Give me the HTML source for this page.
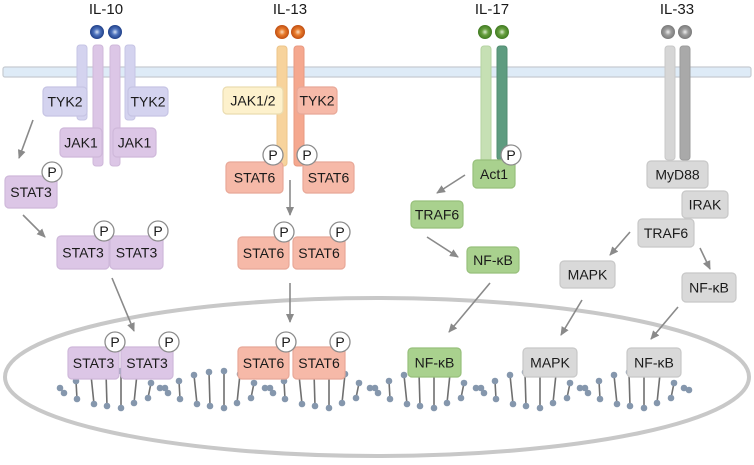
<!DOCTYPE html>
<html><head><meta charset="utf-8"><style>
html,body{margin:0;padding:0;background:#fff;}
svg{display:block;}
text{font-family:"Liberation Sans",sans-serif;fill:#1a1a1a;}
</style></head><body>
<svg width="754" height="465" viewBox="0 0 754 465" xmlns="http://www.w3.org/2000/svg">
<defs>
<marker id="ah" markerWidth="10" markerHeight="10" refX="8" refY="4" orient="auto" markerUnits="userSpaceOnUse">
<path d="M0,0 L9,4 L0,8 z" fill="#8a8a8a"/>
</marker>
<radialGradient id="gb" cx="0.5" cy="0.5" r="0.5"><stop offset="0" stop-color="#d6e2f6"/><stop offset="0.45" stop-color="#4f73bd"/><stop offset="1" stop-color="#1f3f88"/></radialGradient>
<radialGradient id="go" cx="0.5" cy="0.5" r="0.5"><stop offset="0" stop-color="#fcdcbc"/><stop offset="0.45" stop-color="#e87b2c"/><stop offset="1" stop-color="#c04e12"/></radialGradient>
<radialGradient id="gg" cx="0.5" cy="0.5" r="0.5"><stop offset="0" stop-color="#dcecd0"/><stop offset="0.45" stop-color="#68a040"/><stop offset="1" stop-color="#3f7a20"/></radialGradient>
<radialGradient id="gy" cx="0.5" cy="0.5" r="0.5"><stop offset="0" stop-color="#efefef"/><stop offset="0.45" stop-color="#9e9e9e"/><stop offset="1" stop-color="#7a7a7a"/></radialGradient>
</defs>

<!-- membrane -->
<rect x="3" y="67" width="748" height="10" rx="2" fill="#deebf7" stroke="#c6cbd1" stroke-width="1.2"/>

<!-- labels -->
<g font-size="15" text-anchor="middle">
<text x="106" y="14">IL-10</text>
<text x="290" y="14">IL-13</text>
<text x="492" y="14">IL-17</text>
<text x="677" y="14">IL-33</text>
</g>

<!-- balls -->
<circle cx="97" cy="32" r="7" fill="url(#gb)"/><circle cx="115" cy="32" r="7" fill="url(#gb)"/>
<circle cx="282" cy="32" r="7" fill="url(#go)"/><circle cx="298" cy="32" r="7" fill="url(#go)"/>
<circle cx="485" cy="32" r="7" fill="url(#gg)"/><circle cx="502" cy="32" r="7" fill="url(#gg)"/>
<circle cx="668" cy="32" r="7" fill="url(#gy)"/><circle cx="685" cy="32" r="7" fill="url(#gy)"/>

<!-- receptor bars -->
<g stroke-width="1">
<rect x="77" y="45" width="10" height="75" rx="3" fill="#d4d3ef" stroke="#c6c4e4"/>
<rect x="125" y="45" width="10" height="75" rx="3" fill="#d4d3ef" stroke="#c6c4e4"/>
<rect x="93" y="45" width="10" height="121" rx="3" fill="#dcc6e6" stroke="#cfb8da"/>
<rect x="110" y="45" width="10" height="121" rx="3" fill="#dcc6e6" stroke="#cfb8da"/>
<rect x="277" y="46" width="10" height="120" rx="3" fill="#f7d39c" stroke="#ecc48a"/>
<rect x="294" y="46" width="10" height="120" rx="3" fill="#f5a88f" stroke="#e89a82"/>
<rect x="481" y="46" width="10" height="117" rx="3" fill="#c6e0b4" stroke="#b5d3a2"/>
<rect x="497" y="46" width="10" height="114" rx="3" fill="#5e9c80" stroke="#528d72"/>
<rect x="665" y="46" width="10" height="114" rx="3" fill="#d6d6d6" stroke="#c8c8c8"/>
<rect x="680" y="46" width="10" height="114" rx="3" fill="#a9a9a9" stroke="#9c9c9c"/>
</g>

<!-- nucleus -->
<ellipse cx="377" cy="377" rx="372" ry="79" fill="none" stroke="#c8c8c8" stroke-width="4"/>

<!-- DNA lines -->
<g stroke="#707070" stroke-width="1.6">
<line x1="76" y1="381" x2="77" y2="399"/><line x1="91" y1="375" x2="94" y2="404"/><line x1="106" y1="372" x2="107" y2="406"/><line x1="121" y1="371" x2="121" y2="408"/><line x1="137" y1="374" x2="134" y2="403"/><line x1="151" y1="383" x2="148" y2="398"/>
<line x1="179" y1="381" x2="180" y2="399"/><line x1="194" y1="375" x2="197" y2="404"/><line x1="209" y1="372" x2="210" y2="406"/><line x1="224" y1="371" x2="224" y2="408"/><line x1="240" y1="374" x2="237" y2="403"/><line x1="254" y1="383" x2="251" y2="398"/>
<line x1="284" y1="381" x2="285" y2="399"/><line x1="299" y1="375" x2="302" y2="404"/><line x1="314" y1="372" x2="315" y2="406"/><line x1="329" y1="371" x2="329" y2="408"/><line x1="345" y1="374" x2="342" y2="403"/><line x1="359" y1="383" x2="356" y2="398"/>
<line x1="389" y1="381" x2="390" y2="399"/><line x1="404" y1="375" x2="407" y2="404"/><line x1="419" y1="372" x2="420" y2="406"/><line x1="434" y1="371" x2="434" y2="408"/><line x1="450" y1="374" x2="447" y2="403"/><line x1="464" y1="383" x2="461" y2="398"/>
<line x1="495" y1="381" x2="496" y2="399"/><line x1="510" y1="375" x2="513" y2="404"/><line x1="525" y1="372" x2="526" y2="406"/><line x1="540" y1="371" x2="540" y2="408"/><line x1="556" y1="374" x2="553" y2="403"/><line x1="570" y1="383" x2="567" y2="398"/>
<line x1="599" y1="381" x2="600" y2="399"/><line x1="614" y1="375" x2="617" y2="404"/><line x1="629" y1="372" x2="630" y2="406"/><line x1="644" y1="371" x2="644" y2="408"/><line x1="660" y1="374" x2="657" y2="403"/><line x1="674" y1="383" x2="671" y2="398"/>
</g>
<!-- DNA dots -->
<g fill="#8597ad">
<circle cx="60" cy="388" r="3.3"/><circle cx="64" cy="393" r="3.3"/>
<circle cx="76" cy="381" r="3.3"/><circle cx="77" cy="399" r="3.3"/><circle cx="91" cy="375" r="3.3"/><circle cx="94" cy="404" r="3.3"/><circle cx="106" cy="372" r="3.3"/><circle cx="107" cy="406" r="3.3"/><circle cx="121" cy="371" r="3.3"/><circle cx="121" cy="408" r="3.3"/><circle cx="137" cy="374" r="3.3"/><circle cx="134" cy="403" r="3.3"/><circle cx="151" cy="383" r="3.3"/><circle cx="148" cy="398" r="3.3"/>
<circle cx="160" cy="388" r="3.3"/><circle cx="165" cy="388" r="3.3"/><circle cx="168" cy="393" r="3.3"/>
<circle cx="179" cy="381" r="3.3"/><circle cx="180" cy="399" r="3.3"/><circle cx="194" cy="375" r="3.3"/><circle cx="197" cy="404" r="3.3"/><circle cx="209" cy="372" r="3.3"/><circle cx="210" cy="406" r="3.3"/><circle cx="224" cy="371" r="3.3"/><circle cx="224" cy="408" r="3.3"/><circle cx="240" cy="374" r="3.3"/><circle cx="237" cy="403" r="3.3"/><circle cx="254" cy="383" r="3.3"/><circle cx="251" cy="398" r="3.3"/>
<circle cx="265" cy="388" r="3.3"/><circle cx="270" cy="388" r="3.3"/><circle cx="273" cy="393" r="3.3"/>
<circle cx="284" cy="381" r="3.3"/><circle cx="285" cy="399" r="3.3"/><circle cx="299" cy="375" r="3.3"/><circle cx="302" cy="404" r="3.3"/><circle cx="314" cy="372" r="3.3"/><circle cx="315" cy="406" r="3.3"/><circle cx="329" cy="371" r="3.3"/><circle cx="329" cy="408" r="3.3"/><circle cx="345" cy="374" r="3.3"/><circle cx="342" cy="403" r="3.3"/><circle cx="359" cy="383" r="3.3"/><circle cx="356" cy="398" r="3.3"/>
<circle cx="370" cy="388" r="3.3"/><circle cx="375" cy="388" r="3.3"/><circle cx="378" cy="393" r="3.3"/>
<circle cx="389" cy="381" r="3.3"/><circle cx="390" cy="399" r="3.3"/><circle cx="404" cy="375" r="3.3"/><circle cx="407" cy="404" r="3.3"/><circle cx="419" cy="372" r="3.3"/><circle cx="420" cy="406" r="3.3"/><circle cx="434" cy="371" r="3.3"/><circle cx="434" cy="408" r="3.3"/><circle cx="450" cy="374" r="3.3"/><circle cx="447" cy="403" r="3.3"/><circle cx="464" cy="383" r="3.3"/><circle cx="461" cy="398" r="3.3"/>
<circle cx="476" cy="388" r="3.3"/><circle cx="481" cy="388" r="3.3"/><circle cx="484" cy="393" r="3.3"/>
<circle cx="495" cy="381" r="3.3"/><circle cx="496" cy="399" r="3.3"/><circle cx="510" cy="375" r="3.3"/><circle cx="513" cy="404" r="3.3"/><circle cx="525" cy="372" r="3.3"/><circle cx="526" cy="406" r="3.3"/><circle cx="540" cy="371" r="3.3"/><circle cx="540" cy="408" r="3.3"/><circle cx="556" cy="374" r="3.3"/><circle cx="553" cy="403" r="3.3"/><circle cx="570" cy="383" r="3.3"/><circle cx="567" cy="398" r="3.3"/>
<circle cx="580" cy="388" r="3.3"/><circle cx="585" cy="388" r="3.3"/><circle cx="588" cy="393" r="3.3"/>
<circle cx="599" cy="381" r="3.3"/><circle cx="600" cy="399" r="3.3"/><circle cx="614" cy="375" r="3.3"/><circle cx="617" cy="404" r="3.3"/><circle cx="629" cy="372" r="3.3"/><circle cx="630" cy="406" r="3.3"/><circle cx="644" cy="371" r="3.3"/><circle cx="644" cy="408" r="3.3"/><circle cx="660" cy="374" r="3.3"/><circle cx="657" cy="403" r="3.3"/><circle cx="674" cy="383" r="3.3"/><circle cx="671" cy="398" r="3.3"/>
<circle cx="684" cy="388" r="3.3"/><circle cx="689" cy="390" r="3.3"/>
</g>

<!-- boxes -->
<g stroke-width="1.2" font-size="14" text-anchor="middle">
<!-- IL-10 -->
<rect x="43" y="87" width="44" height="29" rx="4" fill="#d4d3ef" stroke="#c6c4e4"/><text x="65" y="106.5">TYK2</text>
<rect x="128" y="87" width="40" height="29" rx="4" fill="#d4d3ef" stroke="#c6c4e4"/><text x="148" y="106.5">TYK2</text>
<rect x="60" y="128" width="42" height="29" rx="4" fill="#dcc6e6" stroke="#cfb8da"/><text x="81" y="147.5">JAK1</text>
<rect x="113" y="128" width="43" height="29" rx="4" fill="#dcc6e6" stroke="#cfb8da"/><text x="134.5" y="147.5">JAK1</text>
<rect x="5" y="176" width="52" height="32" rx="4" fill="#dcc6e6" stroke="#cfb8da"/><text x="31" y="197">STAT3</text>
<rect x="57" y="236" width="52" height="33" rx="4" fill="#dcc6e6" stroke="#cfb8da"/><text x="83" y="257.5">STAT3</text>
<rect x="110" y="236" width="53" height="33" rx="4" fill="#dcc6e6" stroke="#cfb8da"/><text x="136.5" y="257.5">STAT3</text>
<rect x="68" y="347" width="51" height="32" rx="4" fill="#dcc6e6" stroke="#cfb8da"/><text x="93.5" y="368">STAT3</text>
<rect x="121" y="347" width="52" height="32" rx="4" fill="#dcc6e6" stroke="#cfb8da"/><text x="147" y="368">STAT3</text>
<!-- IL-13 -->
<rect x="223" y="87" width="60" height="27" rx="4" fill="#fdf1cc" stroke="#eadcb0"/><text x="253" y="105.5">JAK1/2</text>
<rect x="297" y="87" width="40" height="27" rx="4" fill="#f6b9a8" stroke="#e8a898"/><text x="317" y="105.5">TYK2</text>
<rect x="226" y="162" width="57" height="31" rx="4" fill="#f6b9a8" stroke="#e8a898"/><text x="254.5" y="182.5">STAT6</text>
<rect x="303" y="162" width="51" height="31" rx="4" fill="#f6b9a8" stroke="#e8a898"/><text x="328.5" y="182.5">STAT6</text>
<rect x="238" y="237" width="51" height="32" rx="4" fill="#f6b9a8" stroke="#e8a898"/><text x="263.5" y="258">STAT6</text>
<rect x="293" y="237" width="52" height="32" rx="4" fill="#f6b9a8" stroke="#e8a898"/><text x="319" y="258">STAT6</text>
<rect x="238" y="347" width="51" height="32" rx="4" fill="#f6b9a8" stroke="#e8a898"/><text x="263.5" y="368">STAT6</text>
<rect x="293" y="347" width="52" height="32" rx="4" fill="#f6b9a8" stroke="#e8a898"/><text x="319" y="368">STAT6</text>
<!-- IL-17 -->
<rect x="473" y="160" width="42" height="28" rx="4" fill="#a9d18e" stroke="#98c07c"/><text x="494" y="179">Act1</text>
<rect x="411" y="201" width="52" height="27" rx="4" fill="#a9d18e" stroke="#98c07c"/><text x="437" y="219.5">TRAF6</text>
<rect x="467" y="247" width="52" height="26" rx="4" fill="#a9d18e" stroke="#98c07c"/><text x="493" y="265">NF-κB</text>
<rect x="408" y="348" width="53" height="29" rx="4" fill="#a9d18e" stroke="#98c07c"/><text x="434.5" y="367.5">NF-κB</text>
<!-- IL-33 -->
<rect x="647" y="161" width="61" height="27" rx="4" fill="#d9d9d9" stroke="#c8c8c8"/><text x="677.5" y="179.5">MyD88</text>
<rect x="682" y="191" width="46" height="27" rx="4" fill="#d9d9d9" stroke="#c8c8c8"/><text x="705" y="209.5">IRAK</text>
<rect x="638" y="219" width="56" height="28" rx="4" fill="#d9d9d9" stroke="#c8c8c8"/><text x="666" y="238">TRAF6</text>
<rect x="560" y="261" width="55" height="27" rx="4" fill="#d9d9d9" stroke="#c8c8c8"/><text x="587.5" y="279.5">MAPK</text>
<rect x="682" y="273" width="54" height="29" rx="4" fill="#d9d9d9" stroke="#c8c8c8"/><text x="709" y="292.5">NF-κB</text>
<rect x="523" y="348" width="54" height="29" rx="4" fill="#d9d9d9" stroke="#c8c8c8"/><text x="550" y="367.5">MAPK</text>
<rect x="627" y="348" width="54" height="29" rx="4" fill="#d9d9d9" stroke="#c8c8c8"/><text x="654" y="367.5">NF-κB</text>
</g>

<!-- P circles -->
<g fill="#fff" stroke="#8c8c8c" stroke-width="1.3">
<circle cx="52" cy="172" r="10"/>
<circle cx="104" cy="231" r="10"/><circle cx="158" cy="231" r="10"/>
<circle cx="115" cy="342" r="10"/><circle cx="169" cy="342" r="10"/>
<circle cx="273" cy="155" r="10"/><circle cx="307" cy="155" r="10"/>
<circle cx="284" cy="232" r="10"/><circle cx="340" cy="232" r="10"/>
<circle cx="286" cy="342" r="10"/><circle cx="340" cy="342" r="10"/>
<circle cx="511" cy="155" r="10"/>
</g>
<g font-size="14" text-anchor="middle">
<text x="52" y="177">P</text>
<text x="104" y="236">P</text><text x="158" y="236">P</text>
<text x="115" y="347">P</text><text x="169" y="347">P</text>
<text x="273" y="160">P</text><text x="307" y="160">P</text>
<text x="284" y="237">P</text><text x="340" y="237">P</text>
<text x="286" y="347">P</text><text x="340" y="347">P</text>
<text x="511" y="160">P</text>
</g>

<!-- arrows -->
<g stroke="#8a8a8a" stroke-width="1.6" fill="none" marker-end="url(#ah)">
<line x1="33" y1="120" x2="19" y2="158"/>
<line x1="23" y1="215" x2="45" y2="237"/>
<line x1="112" y1="278" x2="134" y2="331"/>
<line x1="290" y1="180" x2="290" y2="215"/>
<line x1="290" y1="283" x2="290" y2="322"/>
<line x1="465" y1="175" x2="437" y2="193"/>
<line x1="427" y1="237" x2="458" y2="257"/>
<line x1="490" y1="283" x2="449" y2="332"/>
<line x1="630" y1="232" x2="610" y2="255"/>
<line x1="700" y1="248" x2="710" y2="269"/>
<line x1="582" y1="300" x2="561" y2="335"/>
<line x1="678" y1="307" x2="651" y2="339"/>
</g>
</svg>
</body></html>
